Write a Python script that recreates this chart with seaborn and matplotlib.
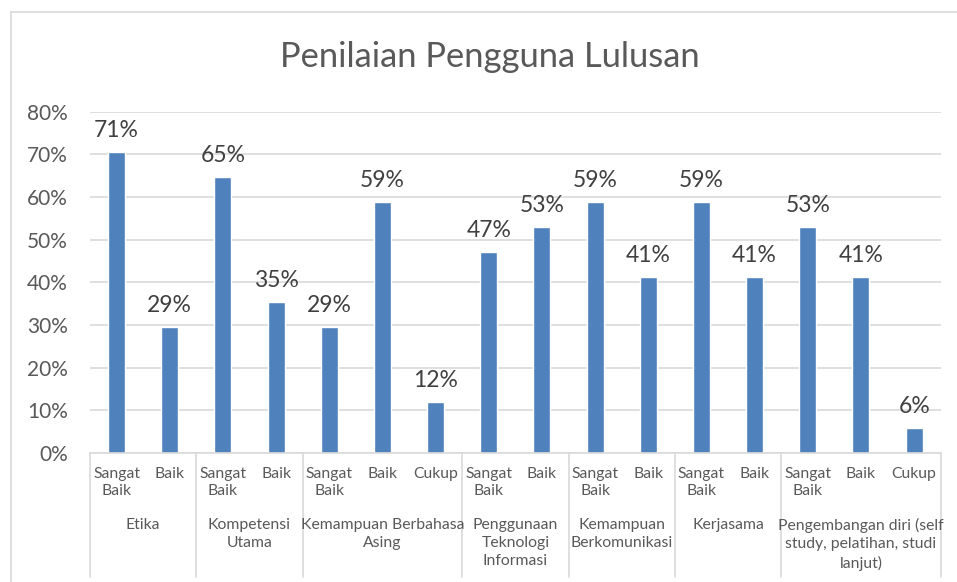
import numpy as np
import pandas as pd
import seaborn as sns
import matplotlib.pyplot as plt
from matplotlib.transforms import blended_transform_factory
from matplotlib.ticker import PercentFormatter

# data
groups = ["Etika", "Kompetensi\nUtama", "Kemampuan Berbahasa\nAsing",
          "Penggunaan\nTeknologi\nInformasi", "Kemampuan\nBerkomunikasi",
          "Kerjasama", "Pengembangan diri (self\nstudy, pelatihan, studi\nlanjut)"]
ratings = [["Sangat\nBaik", "Baik"],
           ["Sangat\nBaik", "Baik"],
           ["Sangat\nBaik", "Baik", "Cukup"],
           ["Sangat\nBaik", "Baik"],
           ["Sangat\nBaik", "Baik"],
           ["Sangat\nBaik", "Baik"],
           ["Sangat\nBaik", "Baik", "Cukup"]]
values = [[0.706, 0.294],
          [0.647, 0.353],
          [0.294, 0.588, 0.118],
          [0.471, 0.529],
          [0.588, 0.412],
          [0.588, 0.412],
          [0.529, 0.412, 0.059]]

rows = []
for g, rs, vs in zip(groups, ratings, values):
    for r, v in zip(rs, vs):
        rows.append({"group": g, "rating": r, "value": v})
df = pd.DataFrame(rows)
df["bar"] = [str(i) for i in range(len(df))]

sns.set_style("white")
plt.rcParams["font.family"] = ["Lato", "DejaVu Sans"]

fig = plt.figure(figsize=(9.57, 5.82), dpi=100)
ax = fig.add_axes([0.094, 0.222, 0.889, 0.586])

sns.barplot(data=df, x="bar", y="value", color="#4F81BD", width=0.32,
            saturation=1, ax=ax)

ax.set_ylim(0, 0.8)
ax.set_xlim(-0.5, len(df) - 0.5)
ax.set_yticks(np.arange(0, 0.81, 0.1))
ax.yaxis.set_major_formatter(PercentFormatter(1.0, decimals=0))
ax.tick_params(axis="y", length=0, pad=16, labelsize=15, labelcolor="#595959")
ax.grid(axis="y", color="#d9d9d9", linewidth=1.2)
ax.set_axisbelow(True)
for s in ["left", "right", "top"]:
    ax.spines[s].set_visible(False)
ax.spines["bottom"].set_color("#d9d9d9")
ax.spines["bottom"].set_linewidth(1.2)
ax.set_xticks([])
ax.set_xlabel("")
ax.set_ylabel("")

# value labels
for i, v in enumerate(df["value"]):
    ax.annotate(f"{v:.0%}", (i, v), xytext=(0, 8), textcoords="offset points",
                ha="center", va="bottom", fontsize=16.5, color="#404040")

# multi-level category axis
trans = blended_transform_factory(ax.transData, ax.transAxes)
for i, r in enumerate(df["rating"]):
    ax.text(i, -0.042, r, transform=trans, ha="center", va="top",
            fontsize=11.3, color="#595959", linespacing=1.3)

start = 0
bounds = [-0.5]
for g, rs in zip(groups, ratings):
    end = start + len(rs)
    ax.text((start + end - 1) / 2, -0.19, g, transform=trans, ha="center",
            va="top", fontsize=11.3, color="#595959", linespacing=1.4)
    bounds.append(end - 0.5)
    start = end
for b in bounds:
    ax.plot([b, b], [0, -0.365], transform=trans, color="#d9d9d9",
            linewidth=1.2, clip_on=False)

fig.text(0.512, 0.902, "Penilaian Pengguna Lulusan", ha="center", va="center",
         fontsize=24.8, color="#595959")

# chart frame
fig.add_artist(plt.Line2D([0.011, 1.0], [0.979, 0.979], color="#d9d9d9", linewidth=1.2))
fig.add_artist(plt.Line2D([0.011, 0.011], [0.0, 0.979], color="#d9d9d9", linewidth=1.2))

fig.savefig("out.png", dpi=100)
